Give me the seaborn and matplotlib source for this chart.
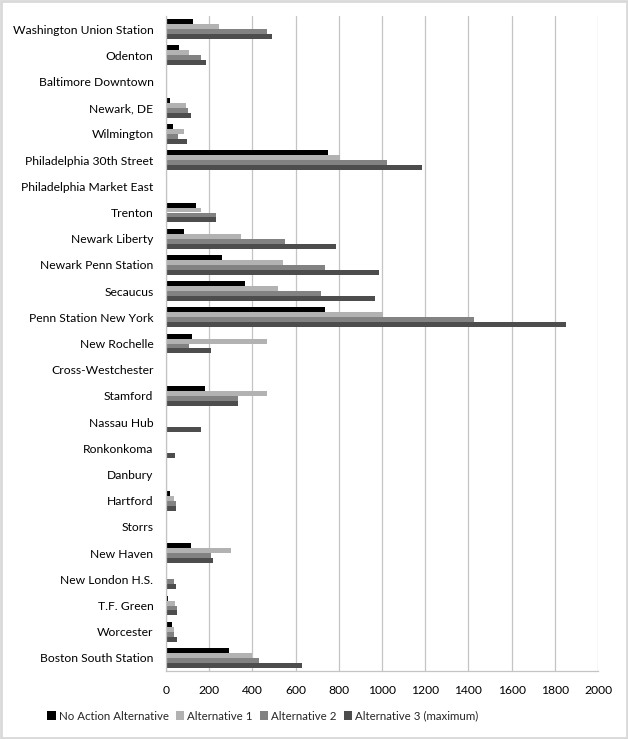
import pandas as pd
import matplotlib
matplotlib.use('Agg')
import matplotlib.pyplot as plt
import seaborn as sns

stations = ['Washington Union Station', 'Odenton', 'Baltimore Downtown', 'Newark, DE',
            'Wilmington', 'Philadelphia 30th Street', 'Philadelphia Market East', 'Trenton',
            'Newark Liberty', 'Newark Penn Station', 'Secaucus', 'Penn Station New York',
            'New Rochelle', 'Cross-Westchester', 'Stamford', 'Nassau Hub', 'Ronkonkoma',
            'Danbury', 'Hartford', 'Storrs', 'New Haven', 'New London H.S.', 'T.F. Green',
            'Worcester', 'Boston South Station']

no_action = [123, 58, 0, 17, 31, 748, 0, 137, 82, 259, 366, 736, 120, 0, 182, 0, 0,
             0, 17, 0, 114, 3, 8, 29, 290]
alt1 = [245, 105, 0, 93, 82, 805, 0, 164, 347, 540, 520, 1006, 469, 0, 469, 0, 0,
        0, 37, 0, 301, 3, 42, 37, 400]
alt2 = [466, 160, 0, 103, 57, 1021, 0, 233, 549, 736, 719, 1426, 106, 0, 333, 0, 0,
        0, 46, 0, 208, 37, 49, 37, 429]
alt3 = [491, 185, 0, 116, 96, 1187, 0, 233, 789, 985, 968, 1850, 207, 0, 333, 164, 40,
        0, 46, 0, 218, 46, 49, 49, 630]

series = ['No Action Alternative', 'Alternative 1', 'Alternative 2', 'Alternative 3 (maximum)']
colors = ['#000000', '#b2b2b2', '#828282', '#4d4d4d']

rows = []
for name, vals in zip(series, [no_action, alt1, alt2, alt3]):
    for st, v in zip(stations, vals):
        rows.append({'Station': st, 'Value': v, 'Series': name})
df = pd.DataFrame(rows)

sns.set_style('white')
plt.rcParams['font.family'] = ['Lato', 'DejaVu Sans']

fig = plt.figure(figsize=(6.28, 7.39), dpi=100)
ax = fig.add_axes([166 / 628, 1 - 671 / 739, 432 / 628, 655 / 739])

sns.barplot(data=df, y='Station', x='Value', hue='Series', hue_order=series,
            order=stations, palette=colors, orient='h', width=0.75, saturation=1,
            linewidth=0, ax=ax)

ax.set_xlim(0, 2000)
ax.set_xticks(range(0, 2001, 200))
ax.set_xlabel('')
ax.set_ylabel('')
ax.xaxis.grid(True, color='#c4c4c4', linewidth=0.9)
ax.set_axisbelow(True)
for s in ['top', 'right']:
    ax.spines[s].set_visible(False)
for s in ['left', 'bottom']:
    ax.spines[s].set_color('#c4c4c4')
    ax.spines[s].set_linewidth(0.9)
ax.tick_params(axis='both', length=0, labelsize=8.7, colors='#000000')
ax.tick_params(axis='x', pad=10)
ax.tick_params(axis='y', pad=9)

ax.legend(loc='center', bbox_to_anchor=(263 / 628, 1 - 716 / 739), bbox_transform=fig.transFigure,
          ncol=4, frameon=False, fontsize=8.3, handlelength=0.7, handleheight=0.7,
          handletextpad=0.3, columnspacing=0.6)

fig.patches.append(plt.Rectangle((0.002, 0.002), 0.996, 0.996, transform=fig.transFigure,
                                 fill=False, edgecolor='#d9d9d9', linewidth=2))

fig.savefig('out.png', dpi=100)
